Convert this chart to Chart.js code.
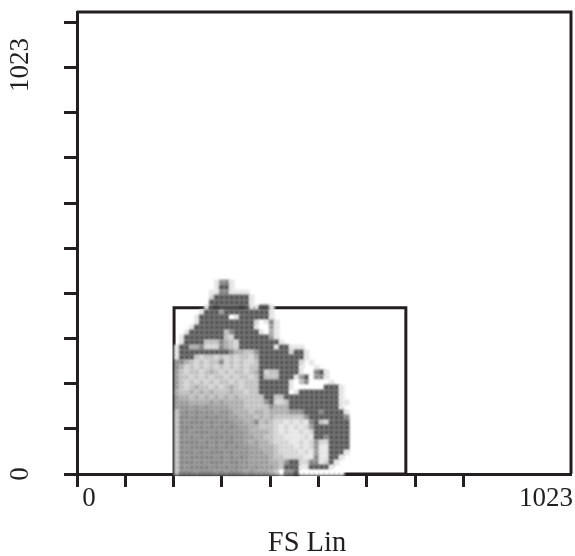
<!DOCTYPE html>
<html>
<head>
<meta charset="utf-8">
<title>FS Lin gate</title>
<script src="https://cdn.jsdelivr.net/npm/chart.js@4"></script>
<style>
    body { margin: 0; background: #fff; }
</style>
</head>
<body>
<canvas id="chart-fs" width="575" height="556"></canvas>
<script>
const xTickValues = [0, 100, 200, 300, 400, 500, 600, 700, 800];
const yTickValues = [0, 100, 200, 300, 400, 500, 600, 700, 800, 900, 1000];
const xTitle = 'FS Lin';
const lowLabel = '0';
const highLabel = '1023';
const axisMax = 1023;

// gate drawn around the main population
const gateX = [201, 201, 681, 681, 201];
const gateY = [0, 368, 368, 0, 0];

// density bins, channel units, centre of the first bin
const binStartX = 207;
const binStartY = 424;
const binWidth = 10.33;
const binHeight = 11.07;

// one string per row, top row first: . = empty, 0 = white, 1-9 = light to dark
const densityRows = [
    '........1671',
    '........1881',
    '.......11771111',
    '.......288888881',
    '.......888888881',
    '......18988889811881',
    '.....188858888888881',
    '....1888888018888881',
    '....18888888888820171',
    '...188888888888810051',
    '..1888888837888881041',
    '.18888888832888888851',
    '.188883337432888888881',
    '188447222743288888881' + '88111',
    '18888888888' + '74433688888828' + '81',
    '1888323323232332' + '4888888888' + '1',
    '674' + '3232337232322' + '3' + '88888888' + '2.1',
    '6423232323232323' + '3' + '88888888' + '1..1',
    '5323323432323323' + '4' + '8233' + '8888' + '1' + '00' + '78' + '1',
    '5332323233232332' + '3' + '8333' + '888' + '1' + '58' + '0' + '67' + '1',
    '5323232323323233' + '3' + '888888' + '1037' + '0000' + '1',
    '5323433232343233' + '3' + '888888' + '1' + '000000' + '888' + '1',
    '4334343433343323' + '3' + '888888' + '01' + '88888888' + '1',
    '5443434343434333' + '33' + '88' + '33' + '88888888888' + '1',
    '5554444545444433' + '3368' + '223' + '8888888888' + '11',
    '5665656555544433' + '3336' + '444' + '8888888888' + '1',
    '3676766656654443' + '4434' + '444666' + '88878888' + '1',
    '3776767676655444' + '3434' + '333333' + '6' + '8888888' + '7',
    '3767776766765544' + '7343' + '2212121' + '78' + '32' + '8888',
    '3777676767676554' + '4333' + '2121212' + '5' + '8888888',
    '3776777676766654' + '4443' + '21211212' + '8888888',
    '3767676777676655' + '4433' + '22111121' + '887' + '8888',
    '3777767676776654' + '5443' + '22211212' + '6' + '22' + '8888',
    '3767777676767665' + '5444' + '32221212' + '6' + '11' + '8888',
    '3777676777676665' + '5544' + '32222121' + '5' + '11' + '888' + '1',
    '3767777767676765' + '5554' + '33' + '222211' + '7' + '11' + '881',
    '3777676777677665' + '5554' + '43' + '688' + '22' + '77' + '12' + '8' + '1',
    '3767777676767665' + '6555' + '43' + '888' + '11' + '8888' + '1',
    '3777677767677656' + '5554' + '30' + '778' + '000000000'
];

const grayLevels = ['#ffffff', '#e6e6e6', '#d4d4d4', '#c0c0c0', '#ababab', '#9a9a9a', '#8e8e8e', '#848484', '#555555', '#444444'];
const inkColor = '#231f20';
const serifFont = '"Liberation Serif", serif';

const densityPoints = [];
const densityColors = [];
densityRows.forEach((row, r) => {
    for (let c = 0; c < row.length; c++) {
        if (row[c] === '.') continue;
        densityPoints.push({ x: binStartX + c * binWidth, y: binStartY - r * binHeight });
        densityColors.push(grayLevels[Number(row[c])]);
    }
});

// soft edges on the density cells, the original is a scanned print
const softDensity = {
    id: 'softDensity',
    beforeDatasetDraw(chart, args) {
        if (args.index === 0) chart.ctx.filter = 'blur(0.9px)';
    },
    afterDatasetDraw(chart, args) {
        if (args.index === 0) chart.ctx.filter = 'none';
    }
};

// top and right sides of the frame plus the hand placed axis text
const frameAndLabels = {
    id: 'frameAndLabels',
    afterDraw(chart) {
        const { ctx, chartArea, scales } = chart;
        ctx.save();
        ctx.strokeStyle = inkColor;
        ctx.lineWidth = 3;
        ctx.beginPath();
        ctx.moveTo(chartArea.left, chartArea.top);
        ctx.lineTo(chartArea.right, chartArea.top);
        ctx.lineTo(chartArea.right, chartArea.bottom);
        ctx.stroke();

        ctx.fillStyle = inkColor;
        ctx.font = '27px ' + serifFont;
        ctx.textBaseline = 'middle';
        const labelY = chartArea.bottom + 25;
        ctx.textAlign = 'center';
        ctx.fillText(lowLabel, scales.x.getPixelForValue(0) + 12, labelY);
        ctx.textAlign = 'right';
        ctx.fillText(highLabel, scales.x.getPixelForValue(axisMax) + 2, labelY);

        ctx.font = '28.5px ' + serifFont;
        ctx.textAlign = 'center';
        ctx.fillText(xTitle, chartArea.left + 230, chartArea.bottom + 70);

        ctx.font = '27px ' + serifFont;
        ctx.translate(21, 0);
        ctx.rotate(-Math.PI / 2);
        ctx.fillText(lowLabel, -scales.y.getPixelForValue(0), 0);
        ctx.fillText(highLabel, -(scales.y.getPixelForValue(axisMax) + 53), 0);
        ctx.restore();
    }
};

const axisBase = {
    type: 'linear',
    min: 0,
    max: axisMax,
    ticks: { display: false, autoSkip: false },
    grid: { drawOnChartArea: false, drawTicks: true, tickLength: 13, tickWidth: 3, tickColor: inkColor },
    border: { display: true, width: 3, color: inkColor }
};

new Chart(document.getElementById('chart-fs'), {
    type: 'scatter',
    data: {
        datasets: [
            {
                label: 'Density',
                data: densityPoints,
                pointStyle: 'rect',
                pointRadius: 4,
                pointBorderWidth: 0,
                pointBackgroundColor: densityColors,
                clip: false
            },
            {
                label: 'Gate',
                data: gateX.map((x, i) => ({ x: x, y: gateY[i] })),
                showLine: true,
                borderColor: inkColor,
                borderWidth: 3,
                pointRadius: 0,
                clip: false
            }
        ]
    },
    options: {
        responsive: false,
        animation: false,
        layout: { padding: { top: 12, right: 2 } },
        plugins: {
            legend: { display: false },
            tooltip: { enabled: false }
        },
        scales: {
            x: {
                ...axisBase,
                afterFit(scale) { scale.height = 82; },
                afterBuildTicks(scale) { scale.ticks = xTickValues.map(v => ({ value: v })); }
            },
            y: {
                ...axisBase,
                afterFit(scale) { scale.width = 77; },
                afterBuildTicks(scale) { scale.ticks = yTickValues.map(v => ({ value: v })); }
            }
        }
    },
    plugins: [softDensity, frameAndLabels]
});
</script>
</body>
</html>
